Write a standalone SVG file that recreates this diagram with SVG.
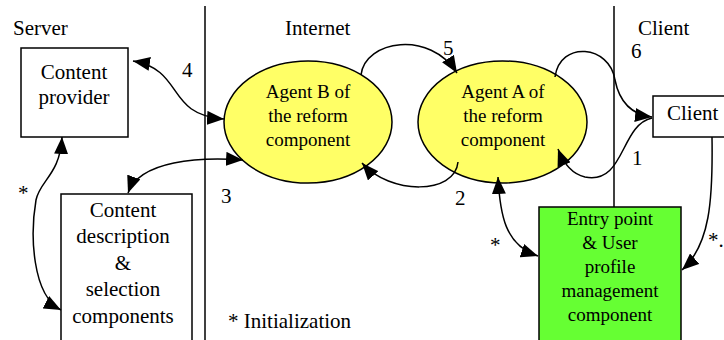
<svg xmlns="http://www.w3.org/2000/svg" width="724" height="340" viewBox="0 0 724 340">
<defs>
<marker id="ah" markerUnits="userSpaceOnUse" markerWidth="18" markerHeight="14" refX="17" refY="7" orient="auto-start-reverse"><path d="M0,0 L17,7 L0,14 z" fill="#000"/></marker>
<style>
.t{font-size:21px}
.s{font-size:19px}
.box{fill:#fff;stroke:#000;stroke-width:1.5}
.ell{fill:#ffff66;stroke:#000;stroke-width:1.5}
.c{fill:none;stroke:#000;stroke-width:1.5}
.sep{stroke:#000;stroke-width:1.5}
</style>
</defs>
<rect width="724" height="340" fill="#fff"/>
<g font-family="'Liberation Serif', 'DejaVu Serif', serif" fill="#000">
<g id="separators">
<line class="sep" x1="205" y1="6" x2="205" y2="340"/>
<line class="sep" x1="614" y1="6" x2="614" y2="207"/>
</g>
<g id="labels">
<text class="t" x="13" y="35">Server</text>
<text class="t" x="285" y="35">Internet</text>
<text class="t" x="638" y="35">Client</text>
<text class="t" x="228" y="328">* Initialization</text>
</g>
<g id="content-provider">
<rect class="box" x="21" y="48" width="107" height="89"/>
<text class="t" x="74" y="79" text-anchor="middle">Content</text>
<text class="t" x="74" y="104" text-anchor="middle">provider</text>
</g>
<g id="content-description">
<rect class="box" x="61" y="194" width="131" height="150"/>
<text class="t" x="123" y="217" text-anchor="middle">Content</text>
<text class="t" x="123" y="243" text-anchor="middle">description</text>
<text class="t" x="123" y="270" text-anchor="middle">&amp;</text>
<text class="t" x="123" y="296" text-anchor="middle">selection</text>
<text class="t" x="123" y="323" text-anchor="middle">components</text>
</g>
<g id="agent-b">
<ellipse class="ell" cx="308" cy="122" rx="84" ry="61"/>
<text class="s" x="308" y="98" text-anchor="middle">Agent B of</text>
<text class="s" x="308" y="122" text-anchor="middle">the reform</text>
<text class="s" x="308" y="146" text-anchor="middle">component</text>
</g>
<g id="agent-a">
<ellipse class="ell" cx="502.5" cy="122" rx="84.5" ry="61"/>
<text class="s" x="503" y="98" text-anchor="middle">Agent A of</text>
<text class="s" x="503" y="122" text-anchor="middle">the reform</text>
<text class="s" x="503" y="146" text-anchor="middle">component</text>
</g>
<g id="client">
<rect class="box" x="653" y="96" width="80" height="41"/>
<text class="t" x="667" y="120">Client</text>
</g>
<g id="entry-point">
<rect x="539" y="207" width="142" height="140" fill="#66ff33" stroke="#000" stroke-width="1.5"/>
<text class="s" x="610" y="225" text-anchor="middle">Entry point</text>
<text class="s" x="610" y="249" text-anchor="middle">&amp; User</text>
<text class="s" x="610" y="273" text-anchor="middle">profile</text>
<text class="s" x="610" y="297" text-anchor="middle">management</text>
<text class="s" x="610" y="321" text-anchor="middle">component</text>
</g>
<g id="connectors">
<path class="c" d="M133,61 C185,70 165,115 224,119" marker-start="url(#ah)" marker-end="url(#ah)"/>
<path class="c" d="M128,193 C140,160 200,157 243,160" marker-start="url(#ah)" marker-end="url(#ah)"/>
<path class="c" d="M361,75 C365,40 430,30 457,73" marker-end="url(#ah)"/>
<path class="c" d="M458,162 C455,195 390,195 362,163" marker-end="url(#ah)"/>
<path class="c" d="M555,77 C560,40 610,45 615,80 C620,105 635,115 652,117" marker-end="url(#ah)"/>
<path class="c" d="M652,118 C620,125 625,185 585,177 C572,174 563,162 558,149" marker-end="url(#ah)"/>
<path class="c" d="M62,137 C60,175 40,180 36,200 C30,235 32,295 61,310" marker-start="url(#ah)" marker-end="url(#ah)"/>
<path class="c" d="M498,177 C500,215 505,245 538,256" marker-start="url(#ah)" marker-end="url(#ah)"/>
<path class="c" d="M712,137 C713,200 710,245 682,270" marker-end="url(#ah)"/>
</g>
<g id="connector-labels">
<text class="t" x="182" y="77">4</text>
<text class="t" x="443" y="55">5</text>
<text class="t" x="631" y="58">6</text>
<text class="t" x="632" y="165">1</text>
<text class="t" x="455" y="205">2</text>
<text class="t" x="221" y="203">3</text>
<text class="t" x="18" y="200">*</text>
<text class="t" x="490" y="252">*</text>
<text class="t" x="708" y="247">*.</text>
</g>
</g>
</svg>
